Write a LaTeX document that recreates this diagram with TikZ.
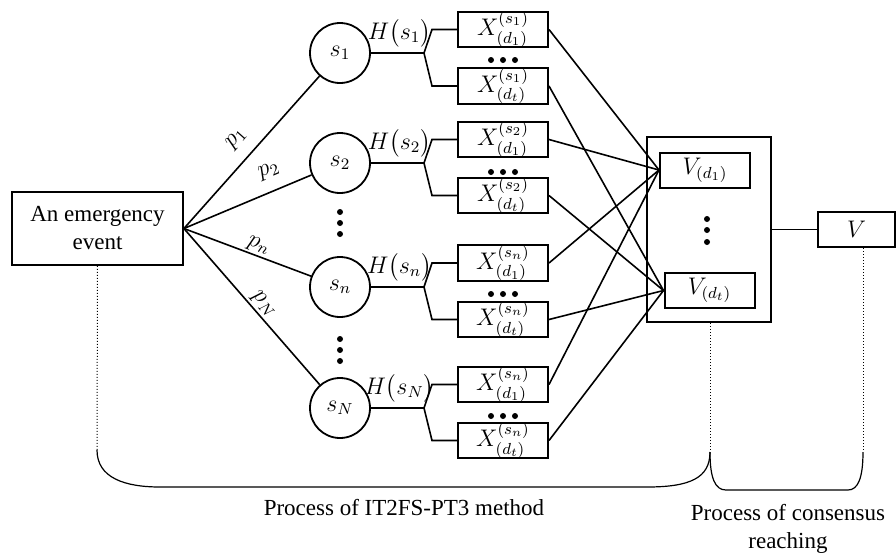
\documentclass[tikz,border=0pt]{standalone}
\usepackage{amsmath, amssymb}
\usepackage{fontspec}
\setmainfont{Liberation Serif}
\usepackage{tikz}
\usetikzlibrary{positioning, calc}
\tikzstyle{event} = [rectangle, draw, line width=0.9pt, minimum width=85.5pt, minimum height=36.5pt, align=center]
\tikzstyle{state} = [circle, draw, line width=0.9pt, minimum size=30pt, inner sep=0pt]
\tikzstyle{xbox} = [rectangle, draw, line width=1pt, minimum width=45pt, minimum height=17.5pt, inner sep=0pt]
\tikzstyle{group} = [rectangle, draw, line width=1pt, minimum width=62pt, minimum height=92.5pt]
\tikzstyle{link} = [line width=0.8pt]
\tikzstyle{guide} = [densely dotted, line width=0.5pt]
\tikzstyle{brace} = [line width=0.6pt]

\begin{document}
\begin{tikzpicture}[x=0.5pt, y=-0.5pt, every node/.style={font=\fontsize{11.5}{14}\selectfont}]
            \useasboundingbox (0,0) rectangle (896,553);
            % event and states
            \node[event] (event) at (97.5,228.5) {An emergency\\event};
            \node[state] (s1) at (340,53) {$s_1$};
            \node[state] (s2) at (340,163) {$s_2$};
            \node[state] (sn) at (340,287) {$s_n$};
            \node[state] (sN) at (340,408) {$s_N$};
            \draw[link] (event.east) -- node[pos=0.5, above=6pt, sloped, inner sep=0pt] {$p_1$} (s1);
            \draw[link] (event.east) -- node[pos=0.73, above=6pt, sloped, inner sep=0pt] {$p_2$} (s2);
            \draw[link] (event.east) -- node[pos=0.56, above=1pt, sloped, inner sep=0pt] {$p_n$} (sn);
            \draw[link] (event.east) -- node[pos=0.53, above=1pt, sloped, inner sep=0pt] {$p_N$} (sN);
            \foreach \y in {212,223,234,339,350,361} \fill (340,\y) circle (1.5pt);

            % X boxes
            \node[xbox] (x11) at (503,29.5) {$X^{(s_1)}_{(d_1)}$};
            \node[xbox] (x1t) at (503,86) {$X^{(s_1)}_{(d_t)}$};
            \node[xbox] (x21) at (503,139.5) {$X^{(s_2)}_{(d_1)}$};
            \node[xbox] (x2t) at (503,195.5) {$X^{(s_2)}_{(d_t)}$};
            \node[xbox] (xn1) at (503,263) {$X^{(s_n)}_{(d_1)}$};
            \node[xbox] (xnt) at (503,319.5) {$X^{(s_n)}_{(d_t)}$};
            \node[xbox] (xN1) at (503,384.5) {$X^{(s_n)}_{(d_1)}$};
            \node[xbox] (xNt) at (503,440.5) {$X^{(s_n)}_{(d_t)}$};
            \foreach \y in {60,172,294,416}
                \foreach \x in {491,503,515} \fill (\x,\y) circle (1.5pt);

            % branches
            \draw[link] (s1.east) -- node[above=-1pt, xshift=1pt] {$H\bigl(s_1\bigr)$} (424,53) coordinate (k1);
            \draw[link] (x11.west) -- (432,29.5) -- (k1) -- (432,86) -- (x1t.west);
            \draw[link] (s2.east) -- node[above=-1pt, xshift=1pt] {$H\bigl(s_2\bigr)$} (424,163) coordinate (k2);
            \draw[link] (x21.west) -- (432,139.5) -- (k2) -- (432,195.5) -- (x2t.west);
            \draw[link] (sn.east) -- node[above=-1pt, xshift=1pt] {$H\bigl(s_n\bigr)$} (424,287) coordinate (kn);
            \draw[link] (xn1.west) -- (432,263) -- (kn) -- (432,319.5) -- (xnt.west);
            \draw[link] (sN.east) -- node[above=-1pt, xshift=1pt] {$H\bigl(s_N\bigr)$} (424,408) coordinate (kN);
            \draw[link] (xN1.west) -- (432,384.5) -- (kN) -- (432,440.5) -- (xNt.west);

            % aggregation
            \node[group] (agg) at (709,229.5) {};
            \node[xbox] (vd1) at (705,170) {$V_{(d_1)}$};
            \node[xbox] (vdt) at (709.5,290.5) {$V_{(d_t)}$};
            \foreach \y in {219,230,242} \fill (707,\y) circle (1.5pt);
            \node[xbox, minimum width=38.5pt] (V) at (856.5,229.5) {$V$};
            \draw[link] (agg.east) -- (V.west);
            \draw[link] (x11.east) -- (vd1.west);
            \draw[link] (x21.east) -- (vd1.west);
            \draw[link] (xn1.east) -- (vd1.west);
            \draw[link] (xN1.east) -- (vd1.west);
            \draw[link] (x1t.east) -- (vdt.west);
            \draw[link] (x2t.east) -- (vdt.west);
            \draw[link] (xnt.east) -- (vdt.west);
            \draw[link] (xNt.east) -- (vdt.west);

            % braces
            \coordinate (b1) at (97,450);
            \coordinate (b2) at (710,452);
            \coordinate (b4) at (863,452);
            \draw[guide] (event.south) -- (b1);
            \draw[guide] (b2 |- agg.south) -- (b2);
            \draw[guide] (b4 |- V.south) -- (b4);
            \draw[brace] (b1) .. controls (97,478) and (125,487) .. (160,487) -- (647,487) .. controls (690,487) and (710,478) .. (b2);
            \draw[brace] (b2) .. controls (710,478) and (715,490) .. (726,490) -- (848,490) .. controls (858,490) and (863,478) .. (b4);
            \node (lab1) at (404,508) {Process of IT2FS-PT3 method};
            \node[align=center] (lab2) at (788,529) {Process of consensus\\reaching};
        \end{tikzpicture}
\end{document}
